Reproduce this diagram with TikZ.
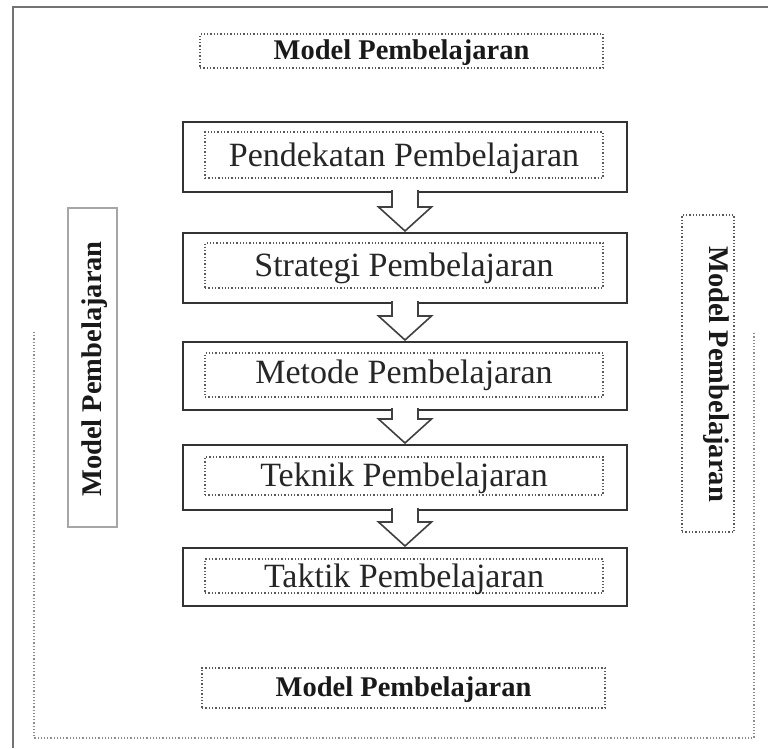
\documentclass[tikz,border=0pt]{standalone}
\usepackage{fontspec}
\setmainfont{Liberation Serif}
\newcommand\flowarr[2]{%
  \filldraw[flowarrow] ([xshift=-13pt,yshift=2pt]#1.south) -- ([xshift=-13pt,yshift=26pt]#2.north)
    -- ([xshift=-26.5pt,yshift=26pt]#2.north) -- ([yshift=2pt]#2.north)
    -- ([xshift=26.5pt,yshift=26pt]#2.north) -- ([xshift=13pt,yshift=26pt]#2.north)
    -- ([xshift=13pt,yshift=2pt]#1.south);}
\begin{document}
\begin{tikzpicture}[x=1pt,y=-1pt,
  frameline/.style={draw=black!55,line width=2pt},
  dotframe/.style={draw=black!45,dotted,line width=1.2pt},
  flowbox/.style={draw=black!80,line width=2pt,fill=white,inner sep=0pt,outer sep=0pt},
  dotbox/.style={draw=black!65,dotted,line width=1.3pt,inner sep=0pt,outer sep=0pt},
  flowtext/.style={font=\fontsize{34}{34}\selectfont,text=black!85,inner sep=0pt,anchor=base},
  labeltext/.style={font=\fontsize{28.5}{28.5}\selectfont\bfseries,text=black!90,inner sep=0pt},
  sidebox/.style={draw=black!35,line width=1.5pt,inner sep=0pt,outer sep=0pt},
  flowarrow/.style={draw=black!75,line width=1.6pt,fill=white,line join=miter}
]
\useasboundingbox (0,0) rectangle (768,748);

% outer frame (top and left visible)
\coordinate (ofA) at (768,7);
\coordinate (ofB) at (12.5,7);
\coordinate (ofC) at (12.5,748);
\draw[frameline] (ofA) -- (ofB) -- (ofC);

% dotted frame
\coordinate (dfA) at (34,332);
\coordinate (dfB) at (34,738);
\coordinate (dfC) at (754,738);
\coordinate (dfD) at (754,332);
\draw[dotframe] (dfA) -- (dfB) -- (dfC) -- (dfD);

% top and bottom labels
\node[dotbox,minimum width=403pt,minimum height=34pt] (topbox) at (401.5,51) {};
\node[labeltext] (toplbl) at (401.5,53) {Model Pembelajaran};
\node[dotbox,minimum width=403pt,minimum height=40pt] (botbox) at (403.5,688) {};
\node[labeltext] (botlbl) at (403.5,690) {Model Pembelajaran};

% side labels
\node[sidebox,minimum width=49pt,minimum height=319pt] (leftbox) at (92.5,367.5) {};
\node[labeltext,rotate=90] (leftlbl) at (95,369) {Model Pembelajaran};
\node[dotbox,minimum width=52pt,minimum height=317pt] (rightbox) at (708,373.5) {};
\node[labeltext,rotate=-90] (rightlbl) at (716,374) {Model Pembelajaran};

% flow boxes
\node[flowbox,minimum width=444pt,minimum height=70pt] (b1) at (405,157) {};
\node[dotbox,minimum width=398pt,minimum height=46pt] (i1) at (404,155) {};
\node[flowtext] (t1) at (404,166) {Pendekatan Pembelajaran};

\node[flowbox,minimum width=444pt,minimum height=70pt] (b2) at (405,268) {};
\node[dotbox,minimum width=398pt,minimum height=45pt] (i2) at (404,265.5) {};
\node[flowtext] (t2) at (404,276.5) {Strategi Pembelajaran};

\node[flowbox,minimum width=444pt,minimum height=68pt] (b3) at (405,376) {};
\node[dotbox,minimum width=398pt,minimum height=44pt] (i3) at (404,375) {};
\node[flowtext] (t3) at (404,383) {Metode Pembelajaran};

\node[flowbox,minimum width=444pt,minimum height=65pt] (b4) at (405,477.5) {};
\node[dotbox,minimum width=398pt,minimum height=38pt] (i4) at (404,476) {};
\node[flowtext] (t4) at (404,486) {Teknik Pembelajaran};

\node[flowbox,minimum width=444pt,minimum height=58pt] (b5) at (405,577) {};
\node[dotbox,minimum width=398pt,minimum height=34pt] (i5) at (404,576) {};
\node[flowtext] (t5) at (404,587) {Taktik Pembelajaran};

% arrows
\flowarr{b1}{b2}
\flowarr{b2}{b3}
\flowarr{b3}{b4}
\flowarr{b4}{b5}
\end{tikzpicture}
\end{document}
